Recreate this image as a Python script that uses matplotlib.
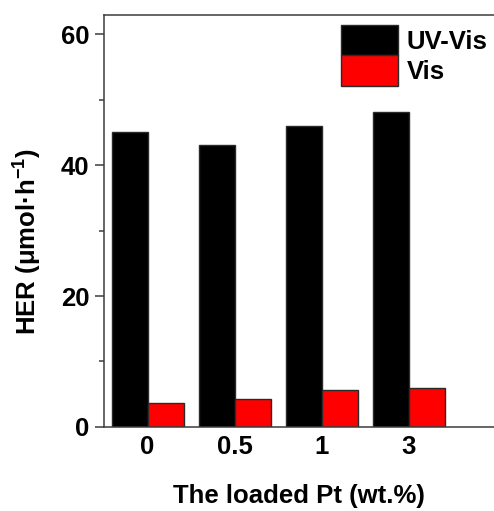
import numpy as np
import matplotlib
matplotlib.use('Agg')
import matplotlib.pyplot as plt

plt.rcParams['font.family'] = ['Liberation Sans', 'DejaVu Sans']
plt.rcParams['font.weight'] = 'bold'
plt.rcParams['mathtext.fontset'] = 'custom'
plt.rcParams['mathtext.rm'] = 'Liberation Sans:bold'
plt.rcParams['mathtext.default'] = 'rm'

# HER rates for each Pt loading
pt_loading = ['0', '0.5', '1', '3']
her_uv_vis = [45.0, 43.0, 46.0, 48.1]
her_vis = [3.6, 4.3, 5.6, 5.9]

x = np.arange(len(pt_loading))
w = 0.413
edge = '#2a2a2a'
fs = 18.5

fig = plt.figure(figsize=(4.94, 5.11), dpi=100)
ax = fig.add_axes([0.2105, 0.1644, 0.8816, 0.8062])

ax.bar(x - w / 2, her_uv_vis, w, color='black', edgecolor=edge, linewidth=1.0, label='UV-Vis')
ax.bar(x + w / 2, her_vis, w, color='#ff0000', edgecolor=edge, linewidth=1.0, label='Vis')

ax.set_xlim(-0.5, 4.5)
ax.set_ylim(0, 62.9)
ax.set_xticks(x)
ax.set_xticklabels(pt_loading)
ax.set_yticks([0, 20, 40, 60])
ax.set_yticks([10, 30, 50], minor=True)

for s in ax.spines.values():
    s.set_color('#3c3c3c')
    s.set_linewidth(1.1)

ax.tick_params(axis='x', length=0, pad=6, labelsize=fs)
ax.tick_params(axis='y', which='major', direction='out', length=6.5, width=1.1,
               color='#3c3c3c', pad=4, labelsize=fs)
ax.tick_params(axis='y', which='minor', direction='out', length=3.5, width=1.1,
               color='#3c3c3c')

ax.set_xlabel('The loaded Pt (wt.%)', fontsize=fs, fontweight='bold')
ax.xaxis.set_label_coords(0.448, -0.138)
ax.set_ylabel('HER (μmol·h$^{-1}$)', fontsize=fs, fontweight='bold')
ax.yaxis.set_label_coords(-0.138, 0.45)

ax.legend(loc='upper left', bbox_to_anchor=(0.5435, 0.976), frameon=False,
          fontsize=fs, borderpad=0, borderaxespad=0, handlelength=2.22,
          handleheight=1.45, labelspacing=0.0, handletextpad=0.35)

fig.savefig('out.png', dpi=100)
